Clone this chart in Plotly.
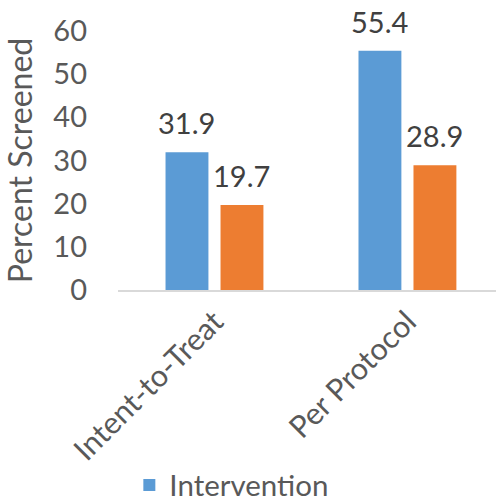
import plotly.graph_objects as go

categories = ["Intent-to-Treat", "Per Protocol"]
intervention = [31.9, 55.4]
control = [19.7, 28.9]
y_ticks = [0, 10, 20, 30, 40, 50, 60]

FONT = "Lato"
GRAY = "#595959"
BLUE = "#5B9BD5"
ORANGE = "#ED7D31"

fig = go.Figure()
fig.add_trace(go.Bar(x=categories, y=intervention, name="Intervention",
                     marker=dict(color=BLUE, line=dict(width=0))))
fig.add_trace(go.Bar(x=categories, y=control, name="Control",
                     marker=dict(color=ORANGE, line=dict(width=0)),
                     showlegend=False))

annotations = []
for vals, shift in ((intervention, -27.5), (control, 27.5)):
    for c, v in zip(categories, vals):
        annotations.append(dict(x=c, y=v, xref="x", yref="y", text=f"{v:.1f}",
                                showarrow=False, yanchor="bottom", xshift=shift,
                                yshift=10, font=dict(family=FONT, size=29, color="#404040")))

fig.update_layout(
    width=496, height=496,
    margin=dict(l=118, r=0, t=31, b=206, autoexpand=False),
    paper_bgcolor="white", plot_bgcolor="white",
    barmode="group", bargap=0.43, bargroupgap=0.22,
    font=dict(family=FONT, color=GRAY, size=29),
    annotations=annotations,
    showlegend=True,
    legend=dict(orientation="h", x=0.03, xanchor="left", yref="container",
                y=0.074, yanchor="top", font=dict(family=FONT, size=29.5, color=GRAY),
                bgcolor="rgba(0,0,0,0)"),
)
fig.update_xaxes(range=[-0.5, 1.459], showgrid=False, showline=True,
                 linecolor="#d9d9d9", linewidth=1.5, tickangle=-45,
                 tickfont=dict(family=FONT, size=30.5, color=GRAY), ticks="")
fig.update_yaxes(range=[0, 60], tickvals=y_ticks, showgrid=False, showline=False,
                 zeroline=False, ticks="", ticklabelstandoff=30,
                 tickfont=dict(family=FONT, size=29, color=GRAY),
                 title=dict(text="Percent Screened", standoff=11,
                            font=dict(family=FONT, size=32, color=GRAY)))

fig.write_html("out.html")
